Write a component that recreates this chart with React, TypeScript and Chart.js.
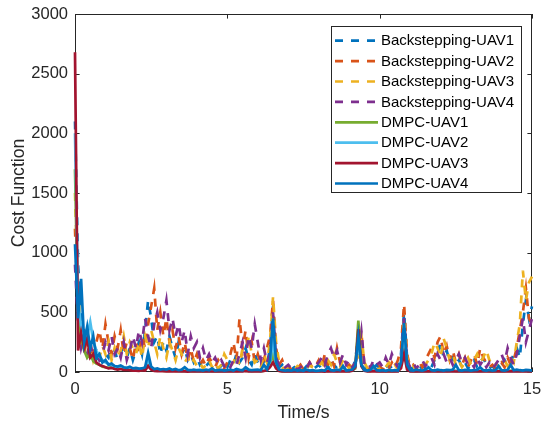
import React, { useEffect, useRef } from "react";
import { Chart, registerables } from "chart.js";

Chart.register(...registerables);

// ---------------- data ----------------
const TIME_STEP = 0.1; // sampling interval in seconds (t = 0 … 15)
const X_TICKS = [0, 5, 10, 15];
const Y_TICKS = [0, 500, 1000, 1500, 2000, 2500, 3000];
const X_LABEL = "Time/s";
const Y_LABEL = "Cost Function";

const SERIES_NAMES = [
  "Backstepping-UAV1",
  "Backstepping-UAV2",
  "Backstepping-UAV3",
  "Backstepping-UAV4",
  "DMPC-UAV1",
  "DMPC-UAV2",
  "DMPC-UAV3",
  "DMPC-UAV4",
];

const backsteppingUAV1 = [
  2100, 900, 500, 350, 250, 200, 150, 120, 100, 90,
  150, 120, 200, 180, 100, 150, 250, 120, 200, 100,
  180, 250, 150, 350, 600, 450, 250, 300, 150, 250,
  180, 300, 200, 120, 250, 150, 200, 100, 150, 80,
  120, 60, 100, 50, 80, 40, 60, 30, 50, 80,
  40, 100, 60, 150, 80, 120, 200, 100, 60, 150,
  80, 40, 100, 60, 200, 550, 150, 40, 60, 20,
  30, 20, 40, 20, 30, 20, 50, 30, 20, 40,
  60, 30, 80, 40, 100, 60, 30, 80, 40, 20,
  50, 30, 100, 300, 80, 20, 40, 20, 30, 60,
  30, 20, 40, 60, 30, 50, 20, 150, 500, 120,
  20, 40, 30, 20, 50, 30, 60, 40, 100, 150,
  250, 120, 180, 80, 120, 60, 100, 40, 80, 30,
  60, 100, 40, 80, 120, 60, 30, 50, 20, 40,
  60, 100, 50, 80, 150, 200, 120, 400, 600, 450,
  550,
];

const backsteppingUAV2 = [
  1200, 500, 250, 150, 300, 200, 150, 250, 350, 200,
  400, 250, 150, 300, 200, 350, 150, 250, 200, 100,
  250, 150, 300, 200, 400, 550, 700, 350, 500, 300,
  450, 250, 350, 200, 300, 150, 250, 100, 200, 80,
  150, 60, 100, 50, 120, 80, 40, 100, 60, 30,
  80, 150, 250, 100, 450, 200, 350, 120, 250, 80,
  150, 60, 100, 200, 300, 600, 200, 60, 100, 30,
  50, 20, 40, 30, 60, 20, 40, 80, 30, 50,
  100, 40, 150, 60, 120, 50, 200, 80, 40, 30,
  60, 30, 80, 150, 320, 60, 40, 20, 60, 30,
  50, 20, 60, 30, 80, 40, 100, 200, 570, 150,
  40, 60, 20, 80, 40, 100, 150, 200, 120, 250,
  300, 150, 220, 100, 180, 80, 150, 60, 120, 40,
  100, 150, 60, 200, 120, 80, 40, 60, 30, 50,
  80, 40, 120, 60, 100, 200, 350, 500, 700, 450,
  400,
];

const backsteppingUAV3 = [
  1500, 700, 300, 200, 150, 250, 100, 180, 120, 220,
  150, 250, 100, 200, 120, 180, 300, 150, 250, 200,
  150, 250, 120, 300, 200, 350, 250, 150, 300, 200,
  120, 250, 180, 100, 200, 150, 80, 120, 60, 100,
  50, 80, 30, 60, 100, 40, 80, 30, 60, 150,
  100, 50, 80, 150, 60, 200, 120, 300, 150, 80,
  100, 40, 150, 80, 250, 630, 250, 80, 40, 20,
  40, 30, 20, 50, 30, 40, 20, 60, 40, 30,
  50, 80, 40, 100, 60, 150, 80, 40, 100, 60,
  30, 50, 80, 120, 300, 80, 30, 60, 40, 20,
  30, 60, 40, 80, 30, 60, 20, 100, 450, 120,
  30, 50, 20, 40, 80, 60, 100, 150, 250, 200,
  120, 280, 200, 100, 150, 60, 100, 40, 80, 120,
  60, 100, 150, 80, 120, 185, 100, 60, 80, 40,
  60, 100, 50, 120, 80, 250, 400, 850, 600, 750,
  800,
];

const backsteppingUAV4 = [
  900, 400, 200, 300, 150, 250, 120, 200, 100, 150,
  250, 180, 300, 150, 200, 120, 250, 100, 180, 300,
  200, 350, 250, 450, 300, 200, 400, 500, 350, 450,
  600, 350, 450, 300, 400, 250, 350, 150, 300, 200,
  250, 120, 200, 100, 150, 80, 120, 60, 100, 50,
  80, 40, 100, 60, 150, 250, 120, 300, 200, 400,
  250, 100, 200, 80, 150, 500, 120, 60, 80, 40,
  60, 30, 50, 20, 40, 60, 30, 80, 40, 60,
  80, 120, 60, 150, 200, 120, 180, 80, 150, 60,
  100, 40, 80, 150, 340, 60, 80, 40, 100, 60,
  80, 40, 120, 60, 150, 80, 40, 120, 450, 100,
  40, 80, 30, 60, 100, 50, 80, 120, 60, 150,
  100, 150, 80, 120, 60, 100, 150, 80, 120, 60,
  80, 40, 120, 60, 100, 40, 80, 30, 60, 100,
  150, 80, 200, 120, 60, 150, 300, 450, 250, 350,
  450,
];

const dmpcUAV1 = [
  1700, 450, 300, 180, 120, 150, 90, 70, 60, 45,
  40, 35, 40, 30, 25, 30, 22, 25, 20, 18,
  20, 15, 18, 25, 70, 30, 15, 12, 15, 10,
  12, 10, 14, 10, 12, 8, 10, 12, 8, 10,
  8, 10, 6, 8, 10, 6, 8, 6, 8, 10,
  8, 10, 12, 8, 10, 15, 10, 12, 8, 10,
  12, 8, 10, 30, 60, 150, 40, 10, 8, 6,
  8, 6, 8, 10, 6, 8, 10, 6, 8, 6,
  8, 10, 12, 8, 15, 10, 8, 12, 10, 8,
  10, 15, 30, 430, 60, 15, 10, 8, 20, 10,
  8, 10, 6, 8, 10, 8, 12, 60, 300, 40,
  10, 8, 6, 8, 10, 8, 6, 10, 12, 8,
  10, 12, 8, 10, 15, 8, 10, 6, 8, 10,
  8, 10, 6, 8, 12, 10, 8, 6, 10, 8,
  10, 8, 12, 10, 15, 10, 8, 12, 10, 8,
  10,
];

const dmpcUAV2 = [
  2000, 600, 380, 330, 300, 420, 260, 180, 130, 100,
  80, 70, 55, 50, 40, 45, 35, 30, 28, 25,
  22, 20, 25, 30, 100, 35, 20, 15, 18, 12,
  15, 12, 10, 14, 10, 12, 8, 10, 12, 8,
  10, 8, 12, 8, 10, 6, 8, 10, 8, 6,
  8, 10, 8, 12, 10, 8, 15, 10, 8, 12,
  10, 8, 12, 20, 80, 250, 60, 12, 8, 10,
  6, 8, 10, 6, 8, 6, 10, 8, 6, 8,
  10, 8, 12, 10, 8, 12, 10, 8, 10, 12,
  8, 12, 40, 250, 50, 12, 8, 10, 15, 8,
  10, 8, 10, 12, 8, 10, 8, 80, 350, 50,
  8, 10, 8, 6, 8, 10, 8, 12, 10, 8,
  10, 8, 12, 10, 8, 10, 12, 8, 10, 8,
  10, 12, 8, 10, 8, 12, 10, 8, 10, 12,
  8, 10, 12, 8, 10, 8, 12, 10, 8, 10,
  8,
];

const dmpcUAV3 = [
  2680, 180, 330, 200, 280, 120, 150, 80, 60, 50,
  40, 30, 35, 25, 20, 25, 18, 20, 15, 12,
  12, 10, 15, 12, 50, 20, 10, 8, 10, 8,
  6, 8, 5, 6, 8, 5, 6, 4, 6, 5,
  4, 5, 6, 4, 5, 4, 6, 5, 4, 5,
  6, 4, 5, 6, 8, 5, 10, 6, 5, 8,
  6, 5, 8, 15, 40, 80, 30, 8, 5, 4,
  5, 4, 6, 4, 5, 6, 4, 5, 4, 6,
  5, 6, 4, 8, 6, 5, 8, 6, 5, 4,
  6, 10, 40, 360, 50, 10, 6, 5, 8, 5,
  6, 5, 4, 6, 5, 8, 6, 30, 150, 20,
  5, 6, 4, 5, 6, 4, 5, 6, 8, 5,
  6, 5, 8, 6, 5, 4, 6, 5, 4, 6,
  5, 6, 4, 5, 6, 8, 5, 4, 6, 5,
  6, 5, 4, 6, 8, 5, 6, 4, 5, 6,
  5,
];

const dmpcUAV4 = [
  1070, 450, 780, 250, 380, 200, 300, 120, 150, 80,
  100, 60, 70, 50, 45, 55, 40, 35, 45, 30,
  35, 28, 30, 40, 160, 45, 25, 30, 20, 25,
  20, 30, 18, 25, 15, 20, 40, 18, 15, 20,
  15, 18, 12, 20, 15, 30, 12, 15, 18, 12,
  15, 20, 12, 25, 18, 15, 40, 20, 15, 18,
  20, 15, 60, 25, 100, 450, 80, 20, 15, 12,
  15, 12, 18, 12, 15, 10, 20, 12, 15, 10,
  12, 15, 10, 40, 15, 12, 20, 15, 50, 12,
  15, 20, 50, 300, 60, 15, 12, 18, 50, 15,
  12, 15, 10, 18, 12, 15, 12, 80, 410, 60,
  15, 12, 20, 15, 12, 18, 40, 15, 12, 20,
  15, 12, 18, 15, 20, 60, 15, 12, 18, 15,
  12, 15, 18, 40, 15, 12, 18, 12, 15, 50,
  15, 12, 18, 60, 15, 20, 15, 12, 18, 15,
  12,
];

const SERIES_VALUES = [
  backsteppingUAV1,
  backsteppingUAV2,
  backsteppingUAV3,
  backsteppingUAV4,
  dmpcUAV1,
  dmpcUAV2,
  dmpcUAV3,
  dmpcUAV4,
];

// ---------------- styles ----------------
const COLORS = [
  "#0072BD",
  "#D95319",
  "#EDB120",
  "#7E2F8E",
  "#77AC30",
  "#4DBEEE",
  "#A2142F",
  "#0072BD",
];
const DASHED = [true, true, true, true, false, false, false, false];
const DASH = [8, 8];
const LINE_W = 2.7;
const FONT = "'Liberation Sans', Arial, Helvetica, sans-serif";
const AXIS_COLOR = "#262626";

const framePlugin = {
  id: "matlabFrame",
  beforeDatasetsDraw(chart: any) {
    const { ctx, chartArea: a, scales } = chart;
    const tl = 4.6;
    ctx.save();
    ctx.strokeStyle = AXIS_COLOR;
    ctx.lineWidth = 1;
    ctx.beginPath();
    ctx.rect(a.left + 0.5, a.top + 0.5, a.right - a.left - 1, a.bottom - a.top - 1);
    for (const v of Y_TICKS) {
      const py = Math.round(scales.y.getPixelForValue(v)) + 0.5;
      ctx.moveTo(a.left, py);
      ctx.lineTo(a.left + tl, py);
      ctx.moveTo(a.right, py);
      ctx.lineTo(a.right - tl, py);
    }
    for (const v of X_TICKS) {
      const px = Math.round(scales.x.getPixelForValue(v)) + 0.5;
      ctx.moveTo(px, a.bottom);
      ctx.lineTo(px, a.bottom - tl);
      ctx.moveTo(px, a.top);
      ctx.lineTo(px, a.top + tl);
    }
    ctx.stroke();
    ctx.restore();
  },
  afterDraw(chart: any) {
    const { ctx, chartArea: a } = chart;
    ctx.save();
    // axis titles
    ctx.fillStyle = AXIS_COLOR;
    ctx.font = `17.6px ${FONT}`;
    ctx.textAlign = "center";
    ctx.textBaseline = "alphabetic";
    ctx.fillText(X_LABEL, (a.left + a.right) / 2, 418);
    ctx.save();
    ctx.translate(24, (a.top + a.bottom) / 2);
    ctx.rotate(-Math.PI / 2);
    ctx.fillText(Y_LABEL, 0, 0);
    ctx.restore();

    // legend
    const bx = 331.5, by = 26.5, bw = 190, bh = 166;
    ctx.fillStyle = "#ffffff";
    ctx.fillRect(bx, by, bw, bh);
    ctx.strokeStyle = AXIS_COLOR;
    ctx.lineWidth = 1;
    ctx.strokeRect(bx, by, bw, bh);
    ctx.font = `15px ${FONT}`;
    ctx.textAlign = "left";
    ctx.textBaseline = "middle";
    chart.data.datasets.forEach((ds: any, i: number) => {
      const y = 40.7 + i * 20.4;
      ctx.strokeStyle = ds.borderColor;
      ctx.lineWidth = ds.borderWidth;
      ctx.setLineDash(ds.borderDash || []);
      ctx.beginPath();
      ctx.moveTo(335, y);
      ctx.lineTo(378, y);
      ctx.stroke();
      ctx.setLineDash([]);
      ctx.fillStyle = "#000000";
      ctx.fillText(ds.label, 381, y + 0.5);
    });
    ctx.restore();
  },
};

export default function App() {
  const canvasRef = useRef<HTMLCanvasElement | null>(null);

  useEffect(() => {
    const canvas = canvasRef.current;
    if (!canvas) return;
    const datasets = SERIES_NAMES.map((name, i) => ({
      label: name,
      data: SERIES_VALUES[i].map((v, k) => ({ x: Math.round(k * TIME_STEP * 10) / 10, y: v })),
      borderColor: COLORS[i],
      backgroundColor: COLORS[i],
      borderWidth: LINE_W,
      borderDash: DASHED[i] ? DASH : [],
      borderCapStyle: "butt",
      borderJoinStyle: "miter",
      pointRadius: 0,
      tension: 0,
      fill: false,
      clip: false,
      order: SERIES_NAMES.length - 1 - i,
    }));

    const chart = new Chart(canvas, {
      type: "line",
      data: { datasets },
      options: {
        animation: false,
        responsive: false,
        devicePixelRatio: 1,
        layout: { padding: { left: 0, top: 14, right: 10, bottom: 0 } },
        plugins: { legend: { display: false }, tooltip: { enabled: false } },
        scales: {
          x: {
            type: "linear",
            min: 0,
            max: 15,
            afterFit: (s: any) => {
              s.height = 50;
              s.paddingLeft = 0;
              s.paddingRight = 0;
            },
            afterBuildTicks: (s: any) => {
              s.ticks = X_TICKS.map((v) => ({ value: v }));
            },
            ticks: {
              color: AXIS_COLOR,
              font: { family: FONT, size: 16.5 },
              padding: 8,
              maxRotation: 0,
              callback: (v: any) => String(v),
            },
            grid: { display: false, drawTicks: false },
            border: { display: false },
          },
          y: {
            type: "linear",
            min: 0,
            max: 3000,
            afterFit: (s: any) => {
              s.width = 75;
              s.paddingTop = 0;
              s.paddingBottom = 0;
            },
            afterBuildTicks: (s: any) => {
              s.ticks = Y_TICKS.map((v) => ({ value: v }));
            },
            ticks: {
              color: AXIS_COLOR,
              font: { family: FONT, size: 16.5 },
              padding: 7,
              callback: (v: any) => String(v),
            },
            grid: { display: false, drawTicks: false },
            border: { display: false },
          },
        },
      },
      plugins: [framePlugin],
    } as any);

    return () => chart.destroy();
  }, []);

  return (
    <div style={{ position: "fixed", left: 0, top: 0, width: 542, height: 422, background: "#ffffff" }}>
      <canvas ref={canvasRef} width={542} height={422} style={{ display: "block" }} />
    </div>
  );
}
